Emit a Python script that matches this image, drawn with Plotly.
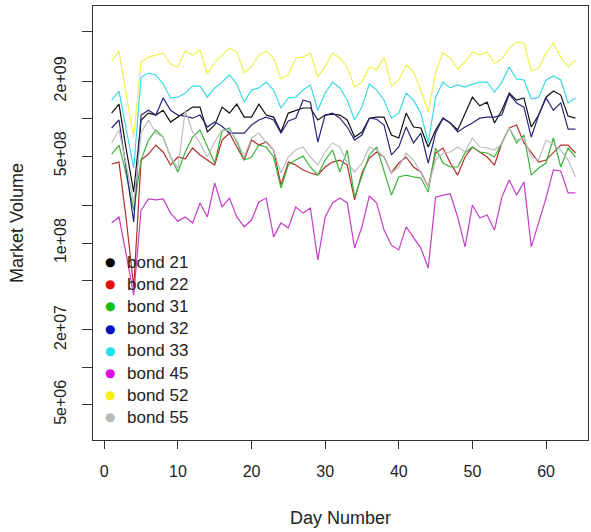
import plotly.graph_objects as go

days = list(range(1, 65))

# Market volume, in millions
bond_21 = [1110, 1310, 560, 257, 977, 1110, 1070, 1170, 940, 1030, 1130, 1240, 1240, 782, 890, 1240,
           1110, 1310, 1030, 1030, 1310, 1070, 1030, 782, 1110, 1170, 1220, 1220, 977, 1070, 1090, 1070,
           977, 712, 782, 1010, 1030, 1030, 739, 700, 1110, 857, 842, 592, 811, 1010, 923, 811,
           1110, 1490, 1270, 1360, 923, 1170, 1610, 1410, 1470, 857, 1070, 1490, 1670, 1550, 1050, 1010]
bond_22 = [432, 448, 153, 44, 465, 520, 614, 540, 424, 492, 475, 581, 511, 465, 424, 674,
           767, 592, 465, 674, 614, 650, 560, 293, 448, 424, 387, 366, 352, 409, 448, 465,
           424, 222, 366, 483, 540, 492, 366, 440, 492, 409, 373, 282, 530, 581, 440, 352,
           492, 592, 540, 492, 424, 638, 842, 890, 638, 530, 448, 465, 530, 614, 614, 530]
bond_31 = [520, 614, 352, 184, 465, 674, 811, 712, 492, 373, 540, 712, 811, 592, 440, 796,
           842, 650, 465, 492, 614, 592, 492, 277, 424, 465, 500, 409, 352, 465, 560, 373,
           560, 234, 340, 511, 592, 387, 243, 340, 352, 340, 333, 257, 581, 440, 409, 409,
           530, 592, 540, 530, 492, 638, 842, 638, 739, 352, 401, 440, 700, 409, 581, 492]
bond_32 = [842, 977, 387, 148, 1070, 1170, 1070, 1470, 1170, 1070, 1050, 1010, 1070, 857, 940, 870,
           767, 767, 767, 890, 977, 1030, 977, 767, 960, 1010, 1410, 1360, 650, 1070, 1110, 1010,
           857, 674, 739, 1010, 990, 890, 511, 592, 857, 638, 767, 440, 767, 1010, 923, 782,
           857, 923, 1010, 1030, 1030, 1070, 1580, 1340, 1240, 712, 1070, 1470, 1170, 1340, 826, 826]
bond_33 = [1410, 1670, 811, 401, 2160, 2330, 2250, 1900, 1470, 1490, 1610, 1830, 1830, 1490, 1770, 1970,
           2250, 1900, 1360, 1700, 1770, 1970, 1700, 1220, 1470, 1490, 1700, 1870, 1170, 1610, 1970, 1770,
           1410, 977, 1240, 1900, 1700, 1410, 1010, 1110, 1610, 1410, 1110, 638, 1490, 1970, 1770, 1870,
           1800, 1900, 1970, 1970, 1640, 1970, 2610, 2090, 2050, 1440, 1490, 2050, 2210, 2050, 1340, 1470]
bond_45 = [145, 162, 80, 38, 184, 226, 222, 226, 174, 150, 162, 145, 210, 162, 304, 195,
           230, 162, 135, 153, 214, 230, 112, 145, 132, 195, 174, 191, 73, 162, 210, 230,
           210, 91, 135, 239, 210, 127, 96, 88, 135, 110, 91, 63, 234, 243, 248, 162,
           93, 202, 159, 168, 127, 234, 321, 243, 310, 93, 145, 230, 387, 380, 253, 253]
bond_52 = [2910, 3500, 1550, 712, 2860, 3130, 3250, 3380, 2750, 2610, 3500, 3250, 3570, 2290, 2860, 3250,
           3700, 3440, 2330, 2610, 3250, 3500, 3080, 2090, 2250, 3080, 3130, 3380, 2160, 2650, 3380, 3080,
           2610, 1800, 1970, 2610, 2470, 3130, 1830, 2050, 2700, 2380, 1700, 1130, 2380, 3380, 3080, 2510,
           2860, 3440, 3250, 3440, 2810, 3020, 3700, 4140, 4060, 2420, 2560, 3380, 4060, 3130, 2610, 2970]
bond_55 = [638, 811, 424, 210, 767, 977, 767, 712, 492, 401, 1170, 782, 638, 492, 650, 811,
           811, 674, 492, 700, 767, 638, 560, 366, 492, 560, 592, 492, 424, 540, 638, 592,
           440, 373, 440, 592, 560, 492, 366, 409, 530, 465, 366, 282, 465, 530, 540, 592,
           540, 700, 592, 581, 560, 625, 842, 674, 700, 492, 465, 674, 620, 560, 465, 340]

series_names = ["bond 21", "bond 22", "bond 31", "bond 32", "bond 33", "bond 45", "bond 52", "bond 55"]
series_vals = [bond_21, bond_22, bond_31, bond_32, bond_33, bond_45, bond_52, bond_55]
line_colors = ["#111111", "#b0302a", "#3cb43c", "#28287f", "#3ed8e6", "#c83cc8", "#f2f050", "#bdbdbd"]
dot_colors = ["#000000", "#e01010", "#10c010", "#0010c0", "#20e0f0", "#e010e0", "#f8f010", "#b8b8b8"]

y_tick_vals = [5e9, 2e9, 1e9, 5e8, 2e8, 1e8, 5e7, 2e7, 1e7, 5e6]
y_tick_text = ["", "2e+09", "", "5e+08", "", "1e+08", "", "2e+07", "", "5e+06"]
x_tick_vals = [0, 10, 20, 30, 40, 50, 60]

FONT = "Liberation Sans, Arial, sans-serif"

# plot-area geometry (pixels) used to place the legend-like key
ML, MR, MT, MB = 93, 3, 6, 92
W, H = 591, 532
PW, PH = W - ML - MR, H - MT - MB

fig = go.Figure()
for name, vals, lc in zip(series_names, series_vals, line_colors):
    fig.add_trace(go.Scatter(x=days, y=[v * 1e6 for v in vals], mode="lines",
                             line=dict(color=lc, width=1.2), showlegend=False,
                             hoverinfo="skip", name=name))

# R-style legend: coloured dots with labels, 22.2 px apart
key_top_px, key_step_px = 262, 22.2
annotations = []
for i, (name, dc) in enumerate(zip(series_names, dot_colors)):
    py = key_top_px + i * key_step_px
    yp = (H - MB - py) / PH
    annotations.append(dict(x=(110 - ML) / PW, y=yp, xref="paper", yref="paper",
                            text="●", showarrow=False, xanchor="center", yanchor="middle",
                            font=dict(family="DejaVu Sans", size=12, color=dc)))
    annotations.append(dict(x=(125 - ML) / PW, y=yp, xref="paper", yref="paper",
                            text=name, showarrow=False, xanchor="left", yanchor="middle",
                            font=dict(family=FONT, size=17, color="#222222")))

fig.update_layout(
    width=W, height=H,
    margin=dict(l=ML, r=MR, t=MT, b=MB),
    paper_bgcolor="white", plot_bgcolor="white",
    font=dict(family=FONT, size=16, color="#222222"),
    showlegend=False,
    annotations=annotations,
    xaxis=dict(range=[-1.53, 65.7], tickvals=x_tick_vals, ticks="outside", ticklen=8,
               tickcolor="#333333", showline=True, linecolor="#333333", linewidth=1,
               mirror=True, showgrid=False, zeroline=False, ticklabelstandoff=9,
               title=dict(text="Day Number", font=dict(size=18), standoff=32)),
    yaxis=dict(type="log", range=[6.415, 9.907], tickvals=y_tick_vals, ticktext=y_tick_text,
               tickangle=-90, ticks="outside", ticklen=10, tickcolor="#333333",
               showline=True, linecolor="#333333", linewidth=1, mirror=True,
               showgrid=False, zeroline=False, ticklabelstandoff=10,
               title=dict(text="Market Volume", font=dict(size=18), standoff=23)),
)

fig.write_html("out.html", config={"displayModeBar": False},
               post_script="document.body.style.margin='0';document.body.style.padding='0';")
